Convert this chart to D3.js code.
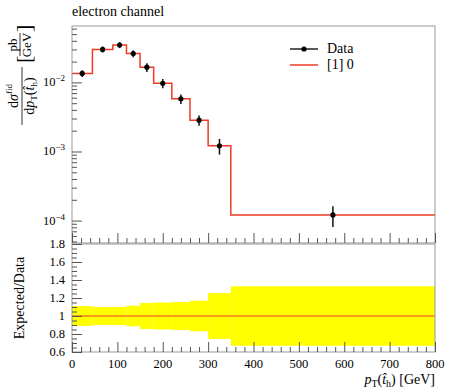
<!DOCTYPE html>
<html><head><meta charset="utf-8">
<script src="https://cdn.jsdelivr.net/npm/d3@7"></script>
<style>
body{margin:0;background:#fff}
text{font-family:"Liberation Serif","Times New Roman",serif;fill:#000}
</style>
</head><body>
<svg id="c" width="450" height="390"></svg>
<script>
// ---- data ----
const binEdges = [0, 45, 90, 120, 150, 180, 220, 260, 300, 350, 800];
const xsec     = [0.0135, 0.030, 0.0348, 0.0261, 0.0166, 0.0097, 0.00578, 0.00284, 0.00121, 0.000121];
const relErr   = [0.11, 0.10, 0.10, 0.115, 0.145, 0.15, 0.155, 0.17, 0.255, 0.33];
const ratioVals = [1, 1, 1, 1, 1, 1, 1, 1, 1, 1];
const xTickVals = [0, 100, 200, 300, 400, 500, 600, 700, 800];
const xTickLabels = ["0", "100", "200", "300", "400", "500", "600", "700", "800"];
const ratioTickVals = [0.6, 0.8, 1.0, 1.2, 1.4, 1.6, 1.8];
const ratioTickLabels = ["0.6", "0.8", "1", "1.2", "1.4", "1.6", "1.8"];
const logTickVals = [1e-4, 1e-3, 1e-2];
const logTickExp = ["\u22124", "\u22123", "\u22122"];
const legendLabels = ["Data", "[1] 0"];

// ---- layout ----
const L = 72, R = 435, mTop = 26, mBot = 243, rTop = 244, rBot = 352;
const red = "#ee3b24", tickCol = "#555", frameCol = "#999";
const svg = d3.select("#c");

const x = d3.scaleLinear().domain([0, 800]).range([L, R]);
const y = d3.scaleLog().domain([4.74e-5, 0.0655]).range([mBot, mTop]);
const yr = d3.scaleLinear().domain([0.6, 1.8]).range([rBot, rTop]);

// ---- ratio band ----
const bins = xsec.map((v, i) => ({x0: binEdges[i], x1: binEdges[i+1], v, e: relErr[i], r: ratioVals[i]}));
svg.append("g").selectAll("rect").data(bins).join("rect")
  .attr("x", d => x(d.x0)).attr("width", d => x(d.x1) - x(d.x0))
  .attr("y", d => yr(1 + d.e)).attr("height", d => yr(1 - d.e) - yr(1 + d.e))
  .attr("fill", "#ffff00");
svg.append("path")
  .datum(bins.map(d => [d.x0, d.r]).concat([[800, bins[bins.length-1].r]]))
  .attr("d", d3.line().x(d => x(d[0])).y(d => yr(d[1])).curve(d3.curveStepAfter))
  .attr("fill", "none").attr("stroke", red).attr("stroke-width", 1.2);

// ---- main histogram ----
svg.append("path")
  .datum(bins.map(d => [d.x0, d.v]).concat([[800, bins[bins.length-1].v]]))
  .attr("d", d3.line().x(d => x(d[0])).y(d => y(d[1])).curve(d3.curveStepAfter))
  .attr("fill", "none").attr("stroke", red).attr("stroke-width", 1.5);

// data points
const pts = svg.append("g");
pts.selectAll("line").data(bins).join("line")
  .attr("x1", d => x((d.x0 + d.x1) / 2)).attr("x2", d => x((d.x0 + d.x1) / 2))
  .attr("y1", d => y(d.v * (1 + d.e))).attr("y2", d => y(d.v * (1 - d.e)))
  .attr("stroke", "#111").attr("stroke-width", 1.5);
pts.selectAll("circle").data(bins).join("circle")
  .attr("cx", d => x((d.x0 + d.x1) / 2)).attr("cy", d => y(d.v)).attr("r", 2.6)
  .attr("fill", "#000");

// ---- frames ----
svg.append("rect").attr("x", L).attr("y", mTop).attr("width", R - L).attr("height", mBot - mTop)
  .attr("fill", "none").attr("stroke", frameCol).attr("stroke-width", 1);
svg.append("rect").attr("x", L).attr("y", rTop).attr("width", R - L).attr("height", rBot - rTop)
  .attr("fill", "none").attr("stroke", frameCol).attr("stroke-width", 1);

// ---- ticks ----
function styleAxis(g) {
  g.select(".domain").remove();
  g.selectAll(".tick line").attr("stroke", tickCol);
}
const minorX = d3.range(0, 801, 20).filter(v => v % 100 !== 0);
[mBot, rBot].forEach(yy => {
  svg.append("g").attr("transform", `translate(0,${yy})`)
    .call(d3.axisBottom(x).tickValues(xTickVals).tickSizeInner(-10).tickFormat(""))
    .call(styleAxis);
  svg.append("g").attr("transform", `translate(0,${yy})`)
    .call(d3.axisBottom(x).tickValues(minorX).tickSizeInner(-5).tickFormat(""))
    .call(styleAxis);
});
// x tick labels
svg.append("g").selectAll("text").data(xTickVals).join("text")
  .attr("x", d => x(d)).attr("y", rBot + 16).attr("text-anchor", "middle")
  .attr("font-size", 12.5).text((d, i) => xTickLabels[i]);

// log y axis
const minorLog = [];
[1e-5, 1e-4, 1e-3, 1e-2].forEach(dec => { for (let k = 2; k <= 9; k++) { const v = dec * k; if (v > 4.74e-5 && v < 0.0655) minorLog.push(v); } });
svg.append("g").attr("transform", `translate(${L},0)`)
  .call(d3.axisLeft(y).tickValues(logTickVals).tickSizeInner(-10).tickFormat(""))
  .call(styleAxis);
svg.append("g").attr("transform", `translate(${L},0)`)
  .call(d3.axisLeft(y).tickValues(minorLog).tickSizeInner(-5).tickFormat(""))
  .call(styleAxis);
const lt = svg.append("g").selectAll("text").data(logTickVals).join("text")
  .attr("x", L - 7).attr("y", d => y(d) + 4).attr("text-anchor", "end").attr("font-size", 12.5);
lt.append("tspan").text("10");
lt.append("tspan").attr("dy", -5).attr("font-size", 9).text((d, i) => logTickExp[i]);

// ratio y axis
const minorR = d3.range(0.65, 1.8, 0.05).filter(v => Math.abs(v * 5 - Math.round(v * 5)) > 1e-6);
svg.append("g").attr("transform", `translate(${L},0)`)
  .call(d3.axisLeft(yr).tickValues(ratioTickVals).tickSizeInner(-10).tickFormat(""))
  .call(styleAxis);
svg.append("g").attr("transform", `translate(${L},0)`)
  .call(d3.axisLeft(yr).tickValues(minorR).tickSizeInner(-5).tickFormat(""))
  .call(styleAxis);
svg.append("g").selectAll("text").data(ratioTickVals).join("text")
  .attr("x", L - 7).attr("y", d => yr(d) + 4).attr("text-anchor", "end").attr("font-size", 12.5)
  .text((d, i) => ratioTickLabels[i]);

// ---- texts ----
svg.append("text").attr("x", L).attr("y", 16).attr("font-size", 14).text("electron channel");

// x axis title
const xt = svg.append("text").attr("x", R).attr("y", 384).attr("text-anchor", "end").attr("font-size", 14);
xt.append("tspan").attr("font-style", "italic").text("p");
xt.append("tspan").attr("font-size", 10).attr("dy", 3).text("T");
xt.append("tspan").attr("dy", -3).text("(");
xt.append("tspan").attr("font-style", "italic").text("t\u0302");
xt.append("tspan").attr("font-size", 10).attr("dy", 3).text("h");
xt.append("tspan").attr("dy", -3).text(") [GeV]");

// ratio y label
svg.append("text").attr("transform", `translate(24,${(rTop + rBot) / 2}) rotate(-90)`)
  .attr("text-anchor", "middle").attr("font-size", 14).text("Expected/Data");

// main y label (rotated fraction); local x = screen up from y=126, local y = screen x
const yl = svg.append("g").attr("transform", "translate(0,126) rotate(-90)");
const num = yl.append("text").attr("x", 30).attr("y", 18).attr("text-anchor", "middle").attr("font-size", 14);
num.append("tspan").text("d");
num.append("tspan").attr("font-style", "italic").text("\u03c3");
num.append("tspan").attr("font-size", 9).attr("dy", -6).text("fid");
yl.append("line").attr("x1", 1).attr("x2", 59).attr("y1", 22).attr("y2", 22).attr("stroke", "#000").attr("stroke-width", 0.8);
const den = yl.append("text").attr("x", 30).attr("y", 34).attr("text-anchor", "middle").attr("font-size", 14);
den.append("tspan").text("d");
den.append("tspan").attr("font-style", "italic").text("p");
den.append("tspan").attr("font-size", 9).attr("dy", 3).text("T");
den.append("tspan").attr("dy", -3).text("(");
den.append("tspan").attr("font-style", "italic").text("t\u0302");
den.append("tspan").attr("font-size", 9).attr("dy", 3).text("h");
den.append("tspan").attr("dy", -3).text(")");
yl.append("text").attr("x", 63).attr("y", 31).attr("font-size", 22).attr("font-weight", 300).text("[");
yl.append("text").attr("x", 81).attr("y", 17).attr("text-anchor", "middle").attr("font-size", 13).text("pb");
yl.append("line").attr("x1", 70).attr("x2", 93).attr("y1", 20).attr("y2", 20).attr("stroke", "#000").attr("stroke-width", 0.8);
yl.append("text").attr("x", 81).attr("y", 31).attr("text-anchor", "middle").attr("font-size", 13).text("GeV");
yl.append("text").attr("x", 94).attr("y", 31).attr("font-size", 22).attr("font-weight", 300).text("]");

// ---- legend ----
const lg = svg.append("g");
lg.append("line").attr("x1", 290).attr("x2", 318).attr("y1", 49).attr("y2", 49).attr("stroke", "#000").attr("stroke-width", 1.3);
lg.append("circle").attr("cx", 304).attr("cy", 49).attr("r", 2.6).attr("fill", "#000");
lg.append("line").attr("x1", 290).attr("x2", 318).attr("y1", 65).attr("y2", 65).attr("stroke", red).attr("stroke-width", 1.5);
lg.append("text").attr("x", 327).attr("y", 53).attr("font-size", 14).text(legendLabels[0]);
lg.append("text").attr("x", 327).attr("y", 69).attr("font-size", 14).text(legendLabels[1]);
</script>
</body></html>
